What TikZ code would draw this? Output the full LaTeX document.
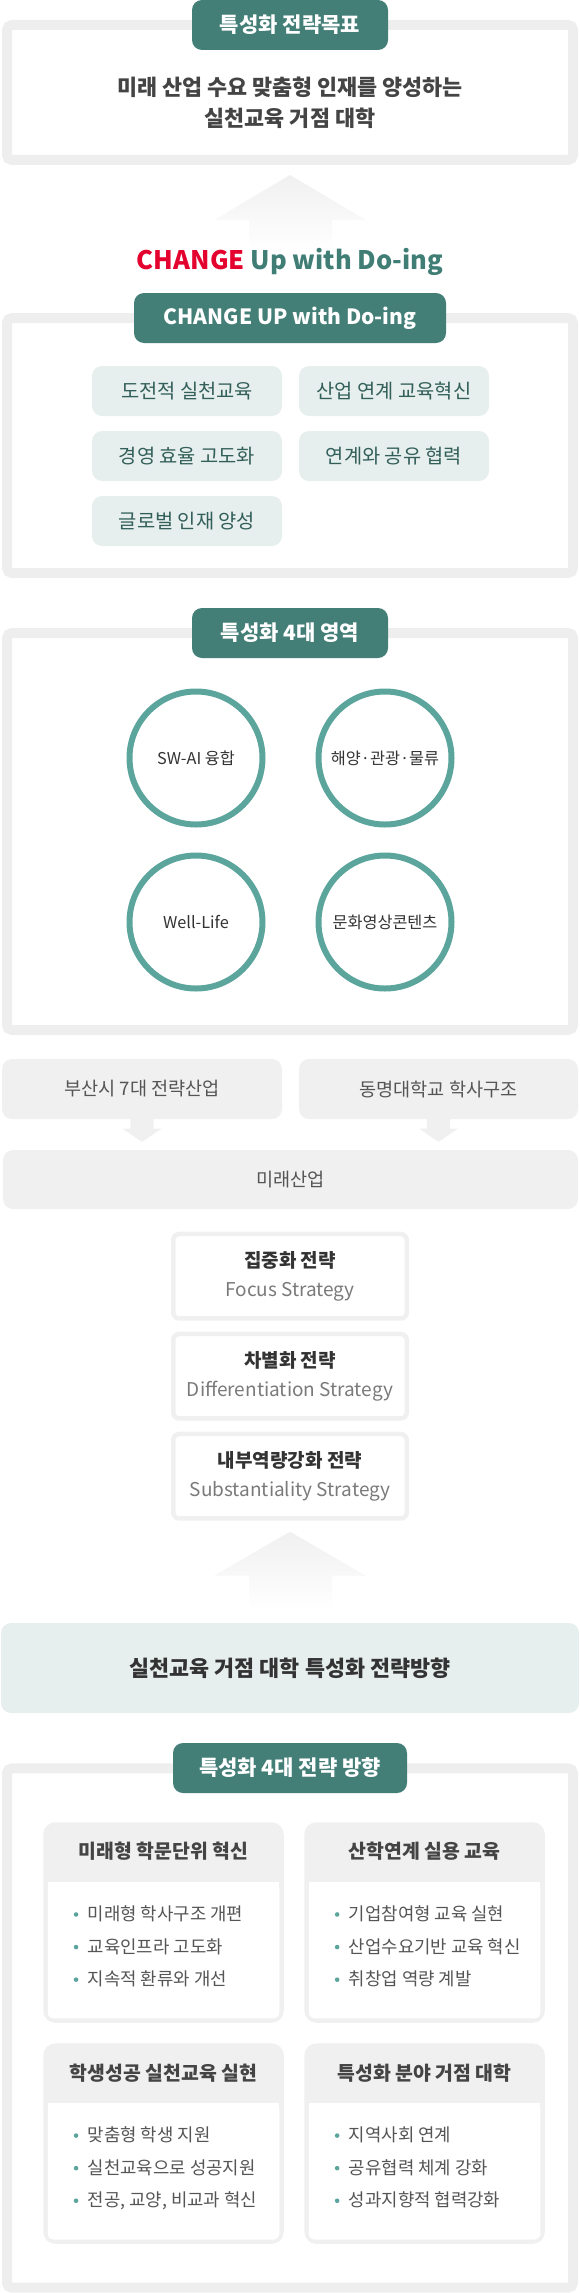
\documentclass[tikz,border=0pt]{standalone}
\usepackage{fontspec}
\setmainfont{Noto Sans CJK KR}
\usetikzlibrary{calc}
\definecolor{tabteal}{HTML}{437E77}
\definecolor{circteal}{HTML}{5BA59D}
\definecolor{pillfill}{HTML}{E6EFED}
\definecolor{pilltext}{HTML}{335F5A}
\definecolor{framegray}{HTML}{EEEEEE}
\definecolor{boxgray}{HTML}{F0F0F0}
\definecolor{darktext}{HTML}{333333}
\definecolor{goaltext}{HTML}{444444}
\definecolor{midtext}{HTML}{555555}
\definecolor{lighttext}{HTML}{7A7A7A}
\definecolor{chred}{HTML}{E4032E}
\definecolor{chteal}{HTML}{3F7D75}
\definecolor{arrowtop}{HTML}{F0F0F0}
\definecolor{arrowmid}{HTML}{E6E6E6}
\tikzset{
  frame/.style={draw=framegray, line width=10pt, rounded corners=5pt, inner sep=0pt, minimum width=566pt},
  tabbox/.style={fill=tabteal, rounded corners=10pt, text=white, font=\bfseries\fontsize{21}{24}\selectfont, minimum height=50pt, inner sep=0pt},
  pill/.style={fill=pillfill, rounded corners=10pt, minimum width=190pt, minimum height=50pt, inner sep=0pt, text=pilltext, font=\fontsize{19.8}{22}\selectfont},
  circ/.style={circle, draw=circteal, line width=6pt, minimum size=133pt, inner sep=0pt, text=darktext, font=\fontsize{16.3}{20}\selectfont},
  graybox/.style={fill=boxgray, rounded corners=10pt, minimum height=60pt, inner sep=0pt, text=midtext, font=\fontsize{18.6}{22}\selectfont},
  stratbox/.style={draw=boxgray, line width=4.5pt, rounded corners=6pt, fill=white, minimum width=233.5pt, minimum height=84.5pt, inner sep=0pt, align=center, font=\fontsize{19}{29}\selectfont},
  card/.style={fill=boxgray, rounded corners=12pt, minimum width=240.5pt, minimum height=200.5pt, inner sep=0pt},
  cardtitle/.style={text=goaltext, font=\bfseries\fontsize{19.4}{22}\selectfont, inner sep=0pt},
  bullettext/.style={anchor=west, text=midtext, font=\fontsize{17.8}{20}\selectfont, inner sep=0pt, text height=0.8em, text depth=0.12em},
  bigarrow/.style={top color=arrowtop, middle color=arrowmid, bottom color=white},
}
\begin{document}
\begin{tikzpicture}[x=1pt,y=-1pt]
\useasboundingbox (0,0) rectangle (580,2293);

% ---------- section 1 ----------
\node[frame, minimum height=135pt] (f1) at (290,92.5) {};
\node[tabbox, minimum width=196pt] (t1) at (290,25) {특성화 전략목표};
\node[align=center, text=goaltext, font=\bfseries\fontsize{21.8}{31}\selectfont] (goal) at (290,102.5) {미래 산업 수요 맞춤형 인재를 양성하는\\실천교육 거점 대학};

\shade[bigarrow] (290,175) -- (366,220) -- (332,220) -- (332,252) -- (249,252) -- (249,220) -- (214,220) -- cycle;

\node[font=\bfseries\fontsize{25.5}{30}\selectfont] (slogan) at (290,262) {\color{chred}CHANGE \color{chteal}Up with Do-ing};

% ---------- section 2 ----------
\node[frame, minimum height=255pt] (f2) at (290,445.5) {};
\node[tabbox, minimum width=312pt] (t2) at (290,318) {CHANGE UP with Do-ing};
\node[pill] (p1) at (187,391) {도전적 실천교육};
\node[pill] (p2) at (394,391) {산업 연계 교육혁신};
\node[pill] (p3) at (187,456) {경영 효율 고도화};
\node[pill] (p4) at (394,456) {연계와 공유 협력};
\node[pill] (p5) at (187,521) {글로벌 인재 양성};

% ---------- section 3 ----------
\node[frame, minimum height=397pt] (f3) at (290,831.5) {};
\node[tabbox, minimum width=196pt] (t3) at (290,633) {특성화 4대 영역};
\node[circ] (c1) at (196,758) {SW-AI 융합};
\node[circ] (c2) at (385,758) {해양·관광·물류};
\node[circ] (c3) at (196,922) {Well-Life};
\node[circ] (c4) at (385,922) {문화영상콘텐츠};

% ---------- section 4 ----------
\node[graybox, minimum width=280pt] (ba) at (142,1089) {부산시 7대 전략산업};
\node[graybox, minimum width=279pt] (bb) at (438.5,1089) {동명대학교 학사구조};
\node[graybox, minimum width=575pt, minimum height=59pt] (fut) at (290.5,1179.5) {미래산업};
\foreach \b in {ba,bb}{
  \fill[boxgray] ($(\b.south)+(-11.7,0)$) -- ++(0,9.3) -- ++(-8,0) -- ($(\b.south)+(0,22.7)$)
    -- ($(\b.south)+(19.7,9.3)$) -- ++(-8,0) -- ++(0,-9.3) -- cycle;
}

\node[stratbox] (s1) at (290,1276.2) {{\bfseries\color{darktext}집중화 전략}\\{\color{lighttext}Focus Strategy}};
\node[stratbox] (s2) at (290,1376.2) {{\bfseries\color{darktext}차별화 전략}\\{\color{lighttext}Differentiation Strategy}};
\node[stratbox] (s3) at (290,1476.2) {{\bfseries\color{darktext}내부역량강화 전략}\\{\color{lighttext}Substantiality Strategy}};

\shade[bigarrow] (290,1531.7) -- (366,1575.7) -- (332,1575.7) -- (332,1610) -- (249,1610) -- (249,1575.7) -- (214,1575.7) -- cycle;

\node[fill=pillfill, rounded corners=10pt, minimum width=578pt, minimum height=90pt, inner sep=0pt, text=darktext, font=\bfseries\fontsize{21.8}{24}\selectfont] (dir) at (290,1668) {실천교육 거점 대학 특성화 전략방향};

% ---------- section 5 ----------
\node[frame, minimum height=519.4pt] (f4) at (290,2028) {};
\node[tabbox, minimum width=234pt] (t4) at (290,1768) {특성화 4대 전략 방향};

\node[card] (k1) at (163.5,1922.5) {};
\node[card] (k2) at (424.6,1922.5) {};
\node[card] (k3) at (163.5,2143.6) {};
\node[card] (k4) at (424.6,2143.6) {};
\foreach \k in {k1,k2,k3,k4}{
  \fill[white, rounded corners=6pt] ($(\k.north west)+(4.7,60)$) rectangle ($(\k.south east)+(-4.7,-4.5)$);
  \fill[white] ($(\k.north west)+(4.7,60)$) rectangle ($(\k.north east)+(-4.7,75)$);
}
\node[cardtitle] (h1) at ($(k1.north)+(0,29.5)$) {미래형 학문단위 혁신};
\node[cardtitle] (h2) at ($(k2.north)+(0,29.5)$) {산학연계 실용 교육};
\node[cardtitle] (h3) at ($(k3.north)+(0,30)$) {학생성공 실천교육 실현};
\node[cardtitle] (h4) at ($(k4.north)+(0,30)$) {특성화 분야 거점 대학};

\foreach \k/\items in {k1/{미래형 학사구조 개편,교육인프라 고도화,지속적 환류와 개선},
                       k2/{기업참여형 교육 실현,산업수요기반 교육 혁신,취창업 역량 계발},
                       k3/{맞춤형 학생 지원,실천교육으로 성공지원,{전공, 교양, 비교과 혁신}},
                       k4/{지역사회 연계,공유협력 체계 강화,성과지향적 협력강화}}{
  \foreach \t [count=\i] in \items {
    \fill[circteal] ($(\k.north west)+(33,92.4+32.6*\i-32.6)$) circle (2.3pt);
    \node[bullettext] (\k-\i) at ($(\k.north west)+(44.6,95.2+32.6*\i-32.6)$) {\t};
  }
}
\end{tikzpicture}
\end{document}
